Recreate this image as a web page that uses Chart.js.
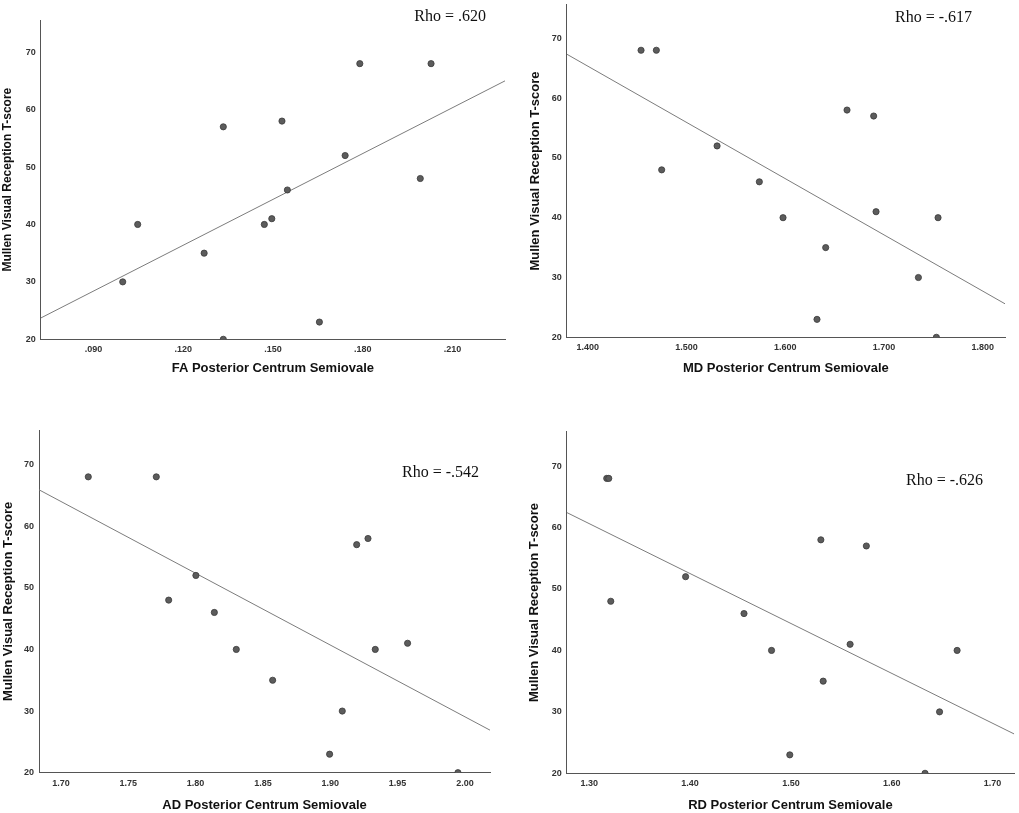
<!DOCTYPE html>
<html><head><meta charset="utf-8">
<script src="https://cdn.jsdelivr.net/npm/chart.js@4.4.0/dist/chart.umd.min.js"></script>
<style>
html,body{margin:0;padding:0;background:#fff;width:1019px;height:813px;overflow:hidden}
.p{position:absolute}
</style></head><body>
<div class="p" style="left:0px;top:0px;width:510px;height:376px"><canvas id="k1"></canvas></div>
<div class="p" style="left:510px;top:0px;width:509px;height:376px"><canvas id="k2"></canvas></div>
<div class="p" style="left:0px;top:420px;width:510px;height:393px"><canvas id="k3"></canvas></div>
<div class="p" style="left:510px;top:420px;width:509px;height:393px"><canvas id="k4"></canvas></div>
<script>
// ---- shared y axis ----
const yTickValues = [20, 30, 40, 50, 60, 70];
const yTickLabels = ['20', '30', '40', '50', '60', '70'];
const yRange = [20, 75.6];
const yTitle = 'Mullen Visual Reception T-score';

// ---- FA ----
const faX = [0.0998, 0.1048, 0.1270, 0.1334, 0.1334, 0.1471, 0.1496, 0.1530, 0.1548, 0.1655, 0.1741, 0.1790, 0.1992, 0.2028];
const faY = [30, 40, 35, 57, 20, 40, 41, 58, 46, 23, 52, 68, 48, 68];
const faFitX = [0.0724, 0.2275];
const faFitY = [23.7, 65.0];
const faTickValues = [0.09, 0.12, 0.15, 0.18, 0.21];
const faTickLabels = ['.090', '.120', '.150', '.180', '.210'];
const faTitle = 'FA Posterior Centrum Semiovale';
const faRho = 'Rho = .620';

// ---- MD ----
const mdX = [1.4540, 1.4695, 1.4749, 1.5310, 1.5738, 1.5978, 1.6410, 1.6322, 1.6626, 1.6896, 1.6920, 1.7548, 1.7349, 1.7531];
const mdY = [68, 68, 48, 52, 46, 40, 35, 23, 58, 57, 41, 40, 30, 20];
const mdFitX = [1.3787, 1.8226];
const mdFitY = [67.35, 25.6];
const mdTickValues = [1.4, 1.5, 1.6, 1.7, 1.8];
const mdTickLabels = ['1.400', '1.500', '1.600', '1.700', '1.800'];
const mdTitle = 'MD Posterior Centrum Semiovale';
const mdRho = 'Rho = -.617';

// ---- AD ----
const adX = [1.7203, 1.7708, 1.7800, 1.8002, 1.8139, 1.8302, 1.8572, 1.8995, 1.9089, 1.9196, 1.9280, 1.9334, 1.9574, 1.9948];
const adY = [68, 68, 48, 52, 46, 40, 35, 23, 30, 57, 58, 40, 41, 20];
const adFitX = [1.6837, 2.0186];
const adFitY = [65.9, 26.9];
const adTickValues = [1.70, 1.75, 1.80, 1.85, 1.90, 1.95, 2.00];
const adTickLabels = ['1.70', '1.75', '1.80', '1.85', '1.90', '1.95', '2.00'];
const adTitle = 'AD Posterior Centrum Semiovale';
const adRho = 'Rho = -.542';

// ---- RD ----
const rdX = [1.3174, 1.3194, 1.3214, 1.3956, 1.4535, 1.4808, 1.4989, 1.5297, 1.5320, 1.5587, 1.5748, 1.6330, 1.6474, 1.6648];
const rdY = [68, 68, 48, 52, 46, 40, 23, 58, 35, 41, 57, 20, 30, 40];
const rdFitX = [1.2777, 1.7214];
const rdFitY = [62.45, 26.4];
const rdTickValues = [1.3, 1.4, 1.5, 1.6, 1.7];
const rdTickLabels = ['1.30', '1.40', '1.50', '1.60', '1.70'];
const rdTitle = 'RD Posterior Centrum Semiovale';
const rdRho = 'Rho = -.626';

const rhoPlugin = {
  id: 'rho',
  afterDraw(chart, args, opts) {
    const ctx = chart.ctx;
    ctx.save();
    ctx.font = '16px "Liberation Serif", "Times New Roman", serif';
    ctx.fillStyle = '#111';
    ctx.textAlign = 'right';
    ctx.textBaseline = 'alphabetic';
    ctx.fillText(opts.text, opts.x, opts.y);
    ctx.restore();
  }
};

function makeChart(id, xs, ys, fitX, fitY, xTicks, xLabels, xTitle, rho, L) {
  const pts = xs.map((x, i) => ({x: x, y: ys[i]}));
  const fit = fitX.map((x, i) => ({x: x, y: fitY[i]}));
  new Chart(document.getElementById(id), {
    type: 'scatter',
    data: {
      datasets: [
        {data: fit, type: 'line', showLine: true, borderColor: '#7c7c7c', borderWidth: 1,
         pointRadius: 0, fill: false, tension: 0, clip: 0, order: 2},
        {data: pts, pointRadius: 3.1, pointBackgroundColor: '#5c5c5c', pointBorderColor: '#3a3a3a',
         pointBorderWidth: 0.8, clip: 0, order: 1}
      ]
    },
    options: {
      responsive: true, maintainAspectRatio: false, animation: false,
      events: [],
      layout: {padding: {top: L.padTop, right: L.padRight, left: 0, bottom: 0}},
      plugins: {legend: {display: false}, tooltip: {enabled: false}, rho: {text: rho, x: L.rhoX, y: L.rhoY}},
      scales: {
        x: {
          type: 'linear', position: 'bottom', min: fitX[0], max: fitX[1],
          grid: {display: false, drawTicks: false},
          border: {display: true, color: '#555', width: 1},
          ticks: {padding: L.xTickPad, color: '#333', font: {family: 'Liberation Sans', size: 9, weight: 'bold'},
                  maxRotation: 0, autoSkip: false,
                  callback: (v) => { const i = xTicks.findIndex(t => Math.abs(t - v) < 1e-9); return i >= 0 ? xLabels[i] : ''; }},
          afterBuildTicks: (s) => { s.ticks = xTicks.map(v => ({value: v})); },
          afterFit: (s) => { s.height = L.xh; s.paddingLeft = 0; s.paddingRight = 0; s.paddingTop = 0; s.paddingBottom = 0; },
          title: {display: true, text: xTitle, color: '#111', padding: {top: 0, bottom: 0},
                  font: {family: 'Liberation Sans', size: 13, weight: 'bold', lineHeight: 1.2}}
        },
        y: {
          type: 'linear', position: 'left', min: yRange[0], max: yRange[1],
          grid: {display: false, drawTicks: false},
          border: {display: true, color: '#555', width: 1},
          ticks: {padding: 5, color: '#333', font: {family: 'Liberation Sans', size: 9, weight: 'bold'},
                  callback: (v) => { const i = yTickValues.indexOf(v); return i >= 0 ? yTickLabels[i] : ''; }},
          afterBuildTicks: (s) => { s.ticks = yTickValues.map(v => ({value: v})); },
          afterFit: (s) => { s.width = L.yw; s.paddingLeft = 0; s.paddingRight = 0; s.paddingTop = 0; s.paddingBottom = 0; },
          title: {display: true, text: yTitle, color: '#111', padding: {top: L.yTitlePad, bottom: 0},
                  font: {family: 'Liberation Sans', size: L.yTitleSize, weight: 'bold', lineHeight: 1.2}}
        }
      }
    },
    plugins: [rhoPlugin]
  });
}

makeChart('k1', faX, faY, faFitX, faFitY, faTickValues, faTickLabels, faTitle, faRho,
  {padTop: 20, padRight: 5, yw: 40.7, xh: 36.7, yTitlePad: 0.8, yTitleSize: 12, xTickPad: 5, rhoX: 486, rhoY: 21});
makeChart('k2', mdX, mdY, mdFitX, mdFitY, mdTickValues, mdTickLabels, mdTitle, mdRho,
  {padTop: 2, padRight: 14, yw: 56.7, xh: 38.7, yTitlePad: 17.7, yTitleSize: 13, xTickPad: 5, rhoX: 462, rhoY: 21.7});
makeChart('k3', adX, adY, adFitX, adFitY, adTickValues, adTickLabels, adTitle, adRho,
  {padTop: 10, padRight: 20, yw: 39, xh: 40.3, yTitlePad: 0.2, yTitleSize: 13, xTickPad: 5, rhoX: 479, rhoY: 57});
makeChart('k4', rdX, rdY, rdFitX, rdFitY, rdTickValues, rdTickLabels, rdTitle, rdRho,
  {padTop: 11.7, padRight: 2.3, yw: 56.7, xh: 39.7, yTitlePad: 16.9, yTitleSize: 13, xTickPad: 5, rhoX: 473, rhoY: 65});
</script>
</body></html>
